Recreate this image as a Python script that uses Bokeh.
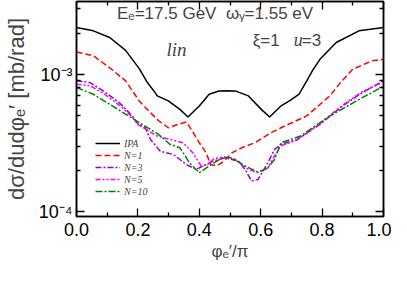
from bokeh.plotting import figure
from bokeh.models import (Range1d, LinearAxis, LogAxis, FixedTicker,
                          CustomJSTickFormatter, Label)
from bokeh.embed import file_html
from bokeh.resources import INLINE

# ---------------- data ----------------
ipa_phi = [0.0, 0.055, 0.108, 0.16, 0.205, 0.231, 0.256, 0.263, 0.299, 0.337,
           0.363, 0.40, 0.432, 0.464, 0.49, 0.517, 0.56, 0.602, 0.629, 0.666,
           0.695, 0.725, 0.75, 0.77, 0.793, 0.846, 0.92, 1.0]
ipa = [2.20e-3, 2.08e-3, 1.86e-3, 1.50e-3, 1.10e-3, 8.74e-4, 7.39e-4, 7.0e-4,
       6.43e-4, 5.58e-4, 4.91e-4, 5.91e-4, 7.18e-4, 7.60e-4, 7.62e-4, 7.60e-4,
       6.99e-4, 5.58e-4, 4.91e-4, 5.91e-4, 6.45e-4, 7.2e-4, 9.0e-4, 1.08e-3,
       1.29e-3, 1.71e-3, 2.08e-3, 2.20e-3]

n1_phi = [0.0, 0.055, 0.108, 0.16, 0.205, 0.241, 0.267, 0.299, 0.331, 0.358,
          0.374, 0.40, 0.422, 0.437, 0.459, 0.48, 0.507, 0.538, 0.581, 0.634,
          0.666, 0.75, 0.825, 0.86, 0.899, 0.963, 1.0]
n1 = [1.46e-3, 1.37e-3, 1.12e-3, 9.0e-4, 6.4e-4, 5.28e-4, 4.62e-4, 4.10e-4,
      4.34e-4, 4.52e-4, 3.99e-4, 3.19e-4, 2.70e-4, 2.21e-4, 2.18e-4, 2.34e-4,
      2.70e-4, 2.93e-4, 3.19e-4, 3.77e-4, 4.10e-4, 5.0e-4, 6.99e-4, 8.74e-4,
      1.09e-3, 1.26e-3, 1.29e-3]

n3_phi = [0.0, 0.044, 0.087, 0.139, 0.182, 0.199, 0.224, 0.241, 0.273, 0.316,
          0.358, 0.390, 0.422, 0.443, 0.485, 0.528, 0.549, 0.570, 0.591, 0.623,
          0.645, 0.666, 0.719, 0.793, 0.867, 0.931, 1.0]
n3 = [9.0e-4, 8.74e-4, 7.6e-4, 6.25e-4, 5.0e-4, 4.39e-4, 4.10e-4, 3.37e-4,
      2.77e-4, 2.62e-4, 2.21e-4, 2.04e-4, 2.21e-4, 2.34e-4, 2.48e-4, 2.34e-4,
      2.04e-4, 1.68e-4, 1.72e-4, 2.28e-4, 2.85e-4, 3.10e-4, 3.37e-4, 4.34e-4,
      5.91e-4, 7.39e-4, 9.0e-4]

n5_phi = [0.0, 0.044, 0.087, 0.139, 0.182, 0.199, 0.263, 0.305, 0.347, 0.379,
          0.406, 0.427, 0.448, 0.480, 0.517, 0.560, 0.591, 0.623, 0.645, 0.666,
          0.72, 0.793, 0.867, 0.931, 1.0]
n5 = [8.5e-4, 8.3e-4, 7.3e-4, 6.0e-4, 4.9e-4, 4.34e-4, 3.57e-4, 3.37e-4,
      3.19e-4, 2.70e-4, 2.16e-4, 2.21e-4, 2.44e-4, 2.52e-4, 2.41e-4, 2.04e-4,
      1.93e-4, 2.09e-4, 2.55e-4, 3.03e-4, 3.35e-4, 4.4e-4, 6.0e-4, 7.5e-4,
      8.8e-4]

n10_phi = [0.0, 0.055, 0.108, 0.161, 0.214, 0.267, 0.305, 0.337, 0.368, 0.400,
           0.432, 0.475, 0.507, 0.549, 0.591, 0.623, 0.645, 0.666, 0.73, 0.816,
           0.931, 1.0]
n10 = [8.04e-4, 7.18e-4, 6.07e-4, 5.13e-4, 4.34e-4, 3.67e-4, 3.10e-4, 2.93e-4,
       2.28e-4, 1.93e-4, 2.16e-4, 2.48e-4, 2.48e-4, 2.16e-4, 1.95e-4, 2.09e-4,
       2.41e-4, 3.19e-4, 3.57e-4, 4.85e-4, 6.8e-4, 8.2e-4]

series_labels = ["IPA", "N=1", "N=3", "N=5", "N=10"]

x_major = [0.0, 0.2, 0.4, 0.6, 0.8, 1.0]
x_minor = [0.1, 0.3, 0.5, 0.7, 0.9]
y_major = [1e-4, 1e-3]
y_minor = [2e-4, 3e-4, 4e-4, 5e-4, 6e-4, 7e-4, 8e-4, 9e-4, 2e-3, 3e-3]

# ---------------- figure ----------------
SANS = "Liberation Sans"
SERIF = "Liberation Serif"

p = figure(width=391, height=266, x_range=Range1d(0, 1),
           y_range=Range1d(9.27e-5, 3.40e-3), y_axis_type="log",
           output_backend="svg", toolbar_location=None,
           min_border_left=70, min_border_right=8, min_border_top=1,
           min_border_bottom=50)
p.grid.visible = False
p.outline_line_color = "black"
p.outline_line_width = 1.5
p.background_fill_color = "white"
p.border_fill_color = "white"


def style_axis(ax, major, minor, labels=True):
    ax.ticker = FixedTicker(ticks=major, minor_ticks=minor)
    ax.axis_line_color = "black"
    ax.axis_line_width = 1.5
    ax.major_tick_in = 8
    ax.major_tick_out = 0
    ax.minor_tick_in = 4
    ax.minor_tick_out = 0
    ax.major_tick_line_width = 1.3
    ax.minor_tick_line_width = 1.3
    ax.major_tick_line_color = "black"
    ax.minor_tick_line_color = "black"
    if not labels:
        ax.formatter = CustomJSTickFormatter(code="return '';")
        ax.major_label_text_font_size = "0px"
        ax.major_label_standoff = 0


xax = p.xaxis[0]
style_axis(xax, x_major, x_minor)
xax.formatter = CustomJSTickFormatter(code="return tick.toFixed(1);")
xax.major_label_text_font = SANS
xax.major_label_text_font_size = "18px"
xax.major_label_text_line_height = 1.0
xax.major_label_text_color = "black"
xax.major_label_standoff = 6
xax.axis_label = "φₑ′/π"
xax.axis_label_text_font = SANS
xax.axis_label_text_font_style = "normal"
xax.axis_label_text_font_size = "17px"
xax.axis_label_text_line_height = 1.0
xax.axis_label_standoff = 3

yax = p.yaxis[0]
style_axis(yax, y_major, y_minor)
yax.formatter = CustomJSTickFormatter(
    code="return tick < 5e-4 ? '10\u207b\u2074' : '10\u207b\u00b3';")
yax.major_label_text_font = SANS
yax.major_label_text_font_size = "18px"
yax.major_label_text_color = "black"
yax.major_label_standoff = 4
yax.axis_label = "dσ/dudφₑ′ [mb/rad]"
yax.axis_label_text_font = SANS
yax.axis_label_text_font_style = "normal"
yax.axis_label_text_font_size = "22px"
yax.axis_label_text_line_height = 1.0
yax.axis_label_standoff = 7

top = LinearAxis()
style_axis(top, x_major, x_minor, labels=False)
p.add_layout(top, "above")
right = LogAxis()
style_axis(right, y_major, y_minor, labels=False)
p.add_layout(right, "right")

# ---------------- curves ----------------
styles = [
    (ipa_phi, ipa, "black", "solid"),
    (n1_phi, n1, "#ff0000", "6 3"),
    (n3_phi, n3, "#9400d3", "6 2 2 2"),
    (n5_phi, n5, "#ff00ff", "5 2 2 2 2 2"),
    (n10_phi, n10, "#008000", "7 2 2 2"),
]
for (xs, ys, col, dash), lab in zip(styles, series_labels):
    p.line(xs, ys, line_color=col, line_width=1.5, line_dash=dash,
           legend_label=lab)

lg = p.legend[0]
lg.location = (19, 19)
lg.padding = 0
lg.margin = 0
lg.spacing = 0
lg.glyph_width = 25
lg.glyph_height = 12
lg.label_height = 12
lg.label_standoff = 4
lg.label_text_font = SERIF
lg.label_text_font_style = "italic"
lg.label_text_font_size = "10px"
lg.border_line_alpha = 0
lg.background_fill_alpha = 0

# ---------------- annotations ----------------
p.add_layout(Label(x=0.132, y=2.79e-3,
                   text="Eₑ=17.5 GeV\u00a0\u00a0ωᵧ=1.55 eV",
                   text_font=SANS, text_font_size="17px",
                   text_baseline="middle", text_align="left"))
p.add_layout(Label(x=0.574, y=1.77e-3, text="ξ=1", text_font=SANS,
                   text_font_size="17px", text_baseline="middle",
                   text_align="left"))
p.add_layout(Label(x=0.708, y=1.77e-3, text="u", text_font=SERIF,
                   text_font_style="italic", text_font_size="18px",
                   text_baseline="middle", text_align="left"))
p.add_layout(Label(x=0.734, y=1.77e-3, text="=3", text_font=SANS,
                   text_font_size="17px", text_baseline="middle",
                   text_align="left"))
p.add_layout(Label(x=0.326, y=1.52e-3, text="lin", text_font=SERIF,
                   text_font_style="italic", text_font_size="19px",
                   text_baseline="middle", text_align="center"))

open("out.html", "w").write(file_html(p, INLINE))
